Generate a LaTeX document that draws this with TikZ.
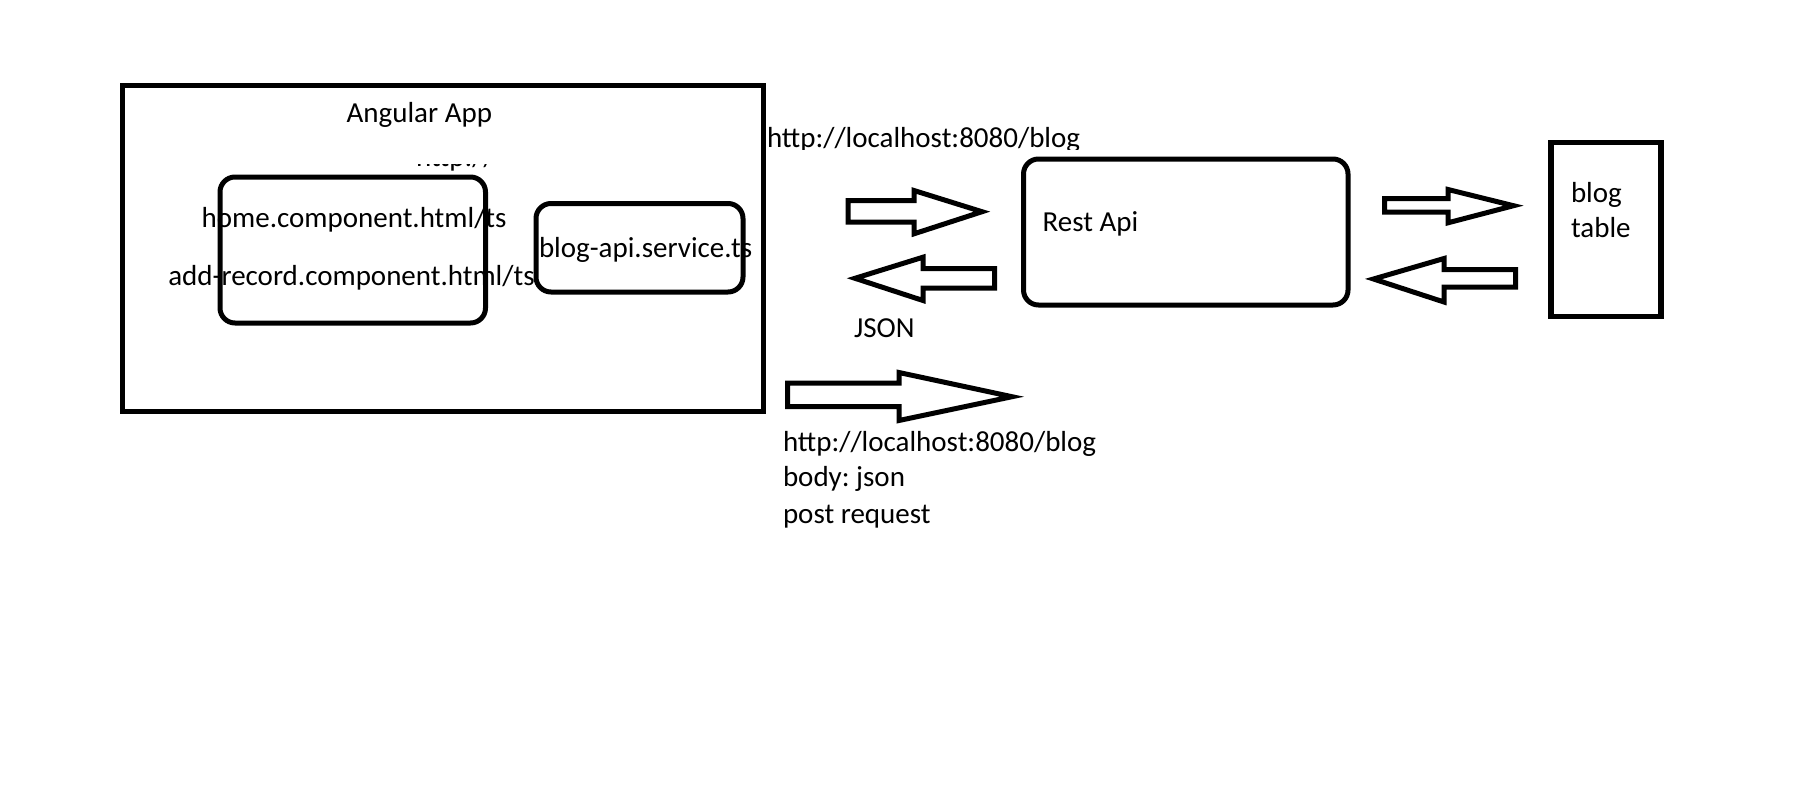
\documentclass[tikz,border=0pt]{standalone}
\usepackage{fontspec}
\setmainfont{Carlito}
\frenchspacing
\begin{document}
\begin{tikzpicture}[x=1pt,y=-1pt,
  box/.style={draw, line width=5pt, inner sep=0pt, outer sep=0pt},
  rbox/.style={box, rounded corners=15pt},
  lbl/.style={anchor=base west, inner sep=0pt, outer sep=0pt, font=\fontsize{29}{35}\selectfont},
  blockarrow/.style={draw, line width=5pt, line join=miter}]
\useasboundingbox[fill=white] (0,0) rectangle (1812,793);

% boxes
\node[box, minimum width=641pt, minimum height=326pt] (app) at (442.5,248) {};
\node[rbox, minimum width=265.5pt, minimum height=146pt] (comp) at (352.75,250) {};
\node[rbox, minimum width=207pt, minimum height=88.5pt] (svc) at (639.5,247.75) {};
\node[rbox, minimum width=324.5pt, minimum height=146pt] (rest) at (1185.75,232) {};
\node[box, line width=5.5pt, minimum width=110pt, minimum height=174pt] (tbl) at (1606,229.5) {};

% texts
\node[lbl] (tapp) at (346.7,122.3) {Angular App};
\begin{scope}
  \clip (400,164) rectangle (500,173);
  \node[lbl] (tfrag) at (416,166.5) {http://};
\end{scope}
\node[lbl] (thome) at (201.7,227.3) {home.component.html/ts};
\node[lbl] (tadd) at (168.3,285) {add-record.component.html/ts};
\node[lbl] (tsvc) at (539,257) {blog-api.service.ts};
\begin{scope}
  \clip (760,110) rectangle (1100,149.5);
  \node[lbl] (turl) at (767,147) {http://localhost:8080/blog};
\end{scope}
\node[lbl] (trest) at (1042.7,231.7) {Rest Api};
\node[lbl] (tjson) at (854,337) {JSON};
\node[lbl] (tpost1) at (783,451) {http://localhost:8080/blog};
\node[lbl] (tpost2) at (783,486.5) {body: json};
\node[lbl] (tpost3) at (783,523) {post request};
\node[lbl] (tblog) at (1571,202) {blog};
\node[lbl] (ttable) at (1571,237.5) {table};

% block arrows
\draw[blockarrow] (848,200.5) -- (914,200.5) -- (914,190.5) -- (982,211.7) -- (914,233.8) -- (914,222) -- (848,222) -- cycle;
\draw[blockarrow] (855,278.3) -- (923,257.2) -- (923,268.5) -- (994.5,268.5) -- (994.5,288) -- (923,288) -- (923,300.5) -- cycle;
\draw[blockarrow] (787.5,383) -- (899,383) -- (899,372.5) -- (1012,396.7) -- (899,420.5) -- (899,406.5) -- (787.5,406.5) -- cycle;
\draw[blockarrow] (1384.5,198.5) -- (1448,198.5) -- (1448,189.5) -- (1513.5,205.7) -- (1448,222.8) -- (1448,212) -- (1384.5,212) -- cycle;
\draw[blockarrow] (1373.5,279) -- (1444,258.5) -- (1444,269.5) -- (1515.5,269.5) -- (1515.5,287) -- (1444,287) -- (1444,302) -- cycle;
\end{tikzpicture}
\end{document}
